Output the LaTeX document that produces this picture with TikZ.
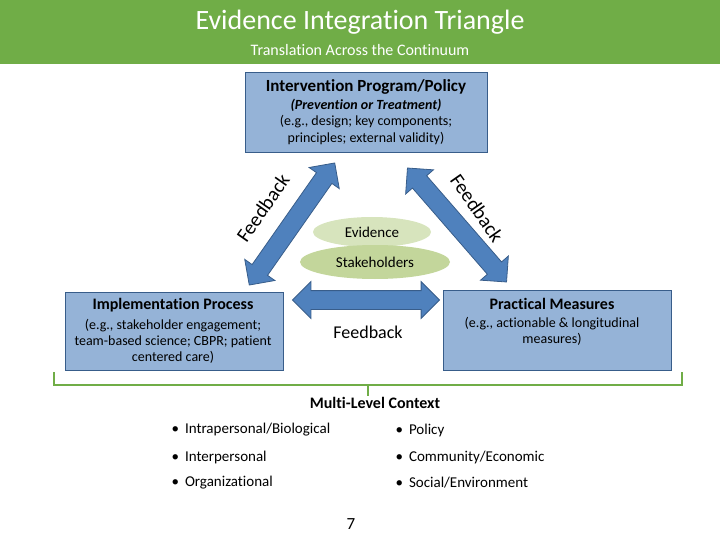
\documentclass[tikz,border=0pt]{standalone}
\usepackage{fontspec}
\setmainfont{Carlito}[RawFeature=-liga]
\usetikzlibrary{shapes.arrows,shapes.geometric}
\definecolor{hgreen}{RGB}{112,173,71}
\definecolor{bfill}{RGB}{149,179,215}
\definecolor{bdraw}{RGB}{56,93,138}
\definecolor{afill}{RGB}{79,129,189}
\definecolor{ev}{RGB}{215,228,189}
\definecolor{st}{RGB}{195,214,155}
\begin{document}
\begin{tikzpicture}[x=1pt,y=-1pt,
 box/.style={draw=bdraw,fill=bfill,line width=0.8pt},
 darr/.style={double arrow,draw=bdraw,fill=afill,line width=0.8pt,minimum width=36pt,double arrow head extend=9pt,inner xsep=0pt,inner ysep=9pt,minimum height=#1},
 fs/.style={font=\fontsize{#1}{#1}\selectfont},
 bul/.style={fs=15,anchor=west}]
\useasboundingbox (0,0) rectangle (720,540);
\fill[hgreen] (0,0) rectangle (720,64);
\node[fs=28,text=white] (title) at (360,22) {Evidence Integration Triangle};
\node[fs=16,text=white] (sub) at (360,50) {Translation Across the Continuum};
% boxes
\draw[box] (245,72) rectangle (487,152);
\node[fs=17] (t1) at (366,87) {\textbf{Intervention Program/Policy}};
\node[fs=14] (t2) at (366,105) {\textbf{\textit{(Prevention or Treatment)}}};
\node[fs=14] (t3) at (366,122) {(e.g., design; key components;};
\node[fs=14] (t4) at (366,139) {principles; external validity)};
\draw[box] (65,292) rectangle (283,370);
\node[fs=16] (l1) at (173,305) {\textbf{Implementation Process}};
\node[fs=14,align=center] (l2) at (173,341) {(e.g., stakeholder engagement;\\[2pt]team-based science; CBPR; patient\\[2pt]centered care)};
\draw[box] (443,290) rectangle (671,370);
\node[fs=16] (r1) at (552,304) {\textbf{Practical Measures}};
\node[fs=14,align=center] (r2) at (552,331) {(e.g., actionable \& longitudinal\\[2pt]measures)};
% ellipses
\node[ellipse,fill=ev,minimum width=118pt,minimum height=30pt,fs=15] (ev) at (372,232) {Evidence};
\node[ellipse,fill=st,minimum width=150pt,minimum height=34pt] (st) at (375,262) {};
\node[fs=15] (stt) at (375,262) {Stakeholders};
% arrows
\node[darr=149pt,rotate=55] (a1) at (292,224) {};
\node[darr=151pt,rotate=-49] (a2) at (457,225) {};
\node[darr=147pt] (a3) at (366,300) {};
\node[fs=20,rotate=55] (f1) at (263,208) {Feedback};
\node[fs=20,rotate=-55] (f2) at (477,208) {Feedback};
\node[fs=18] (f3) at (368,332) {Feedback};
% bracket
\draw[hgreen,line width=2.5pt] (54,372) -- (54,385) -- (682,385) -- (682,372);
\draw[hgreen,line width=2.5pt] (368,385) -- (368,396);
\node[fs=16] (mlc) at (375,403) {\textbf{Multi-Level Context}};
\node[bul] (lb1) at (168,430) {\textbullet\hspace{6pt}Intrapersonal/Biological};
\node[bul] (lb2) at (168,457) {\textbullet\hspace{6pt}Interpersonal};
\node[bul] (lb3) at (168,483) {\textbullet\hspace{6pt}Organizational};
\node[bul] (rb1) at (392,430) {\textbullet\hspace{6pt}Policy};
\node[bul] (rb2) at (392,457) {\textbullet\hspace{6pt}Community/Economic};
\node[bul] (rb3) at (392,483) {\textbullet\hspace{6pt}Social/Environment};
\node[fs=17] (pg) at (351,524) {7};
\end{tikzpicture}
\end{document}
